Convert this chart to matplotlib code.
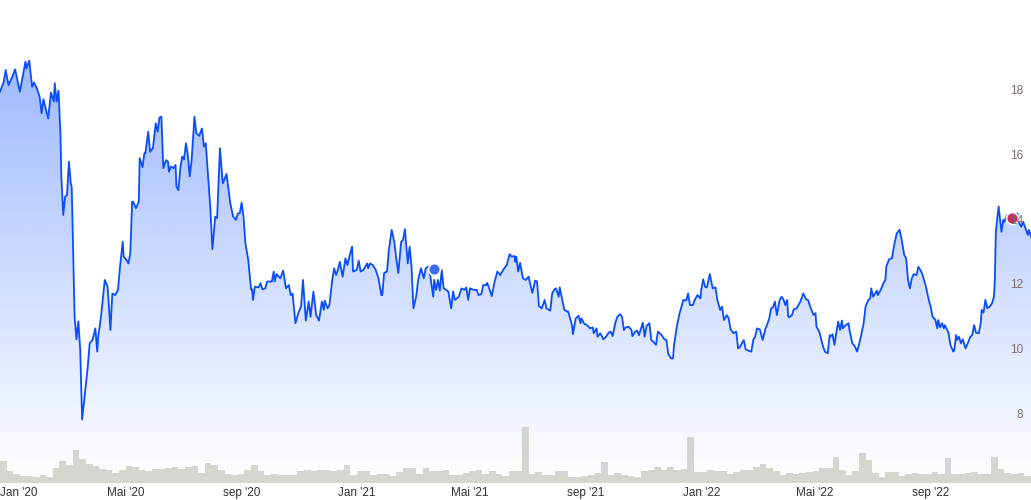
import numpy as np
import pandas as pd
import matplotlib
matplotlib.use('Agg')
import matplotlib.pyplot as plt
import matplotlib.colors as mcolors
import matplotlib.dates as mdates
from matplotlib.patches import PathPatch
from matplotlib.transforms import ScaledTranslation

plt.rcParams['font.family'] = ['Liberation Sans', 'DejaVu Sans']

# Day offsets are counted from 1 Jan 2020
origin = pd.Timestamp('2020-01-01')

price_days = [
    -12, -8, -6, -3, 1, 4, 9, 15, 16, 19,
    22, 24, 27, 30, 32, 34, 39, 42, 45, 46,
    48, 50, 52, 53, 55, 57, 59, 61, 63, 64,
    67, 69, 71, 73, 75, 78, 81, 83, 86, 89,
    91, 92, 95, 99, 102, 105, 107, 110, 113, 115,
    118, 119, 122, 124, 126, 128, 129, 132, 135, 136,
    139, 141, 142, 145, 147, 150, 153, 155, 157, 159,
    161, 164, 166, 167, 169, 172, 174, 175, 177, 179,
    181, 183, 185, 187, 189, 191, 194, 196, 199, 202,
    204, 206, 211, 213, 216, 218, 221, 224, 228, 232,
    235, 238, 240, 242, 244, 246, 248, 251, 254, 255,
    256, 258, 262, 264, 266, 269, 271, 276, 278, 279,
    281, 285, 288, 291, 294, 296, 298, 301, 304, 307,
    309, 312, 315, 317, 320, 323, 326, 329, 331, 332,
    335, 337, 340, 342, 344, 346, 348, 351, 354, 356,
    359, 361, 362, 366, 368, 370, 373, 377, 378, 380,
    383, 386, 389, 392, 393, 395, 398, 400, 403, 406,
    408, 410, 413, 415, 417, 420, 422, 424, 426, 429,
    431, 434, 437, 439, 442, 444, 447, 448, 450, 452,
    454, 456, 458, 461, 463, 466, 468, 470, 474, 477,
    480, 482, 484, 486, 490, 493, 495, 498, 500, 503,
    504, 506, 509, 512, 515, 518, 521, 525, 528, 530,
    533, 534, 535, 537, 539, 542, 545, 548, 550, 552,
    555, 557, 559, 562, 565, 567, 571, 573, 575, 577,
    580, 581, 584, 586, 589, 590, 594, 595, 598, 601,
    603, 604, 607, 610, 613, 616, 617, 620, 621, 624,
    626, 627, 630, 633, 635, 637, 640, 642, 645, 647,
    649, 651, 654, 657, 658, 661, 663, 665, 669, 671,
    673, 676, 678, 680, 683, 685, 689, 692, 694, 696,
    699, 701, 702, 705, 708, 710, 712, 715, 717, 719,
    722, 724, 727, 730, 731, 733, 735, 737, 740, 743,
    746, 748, 751, 753, 755, 758, 760, 762, 765, 768,
    770, 772, 774, 776, 778, 781, 784, 786, 788, 790,
    793, 796, 799, 800, 803, 805, 807, 809, 811, 814,
    816, 818, 820, 822, 823, 824, 827, 829, 832, 836,
    839, 842, 844, 847, 850, 852, 853, 856, 859, 860,
    862, 865, 867, 868, 870, 872, 874, 876, 878, 880,
    881, 884, 887, 888, 891, 894, 896, 898, 900, 903,
    905, 908, 910, 911, 913, 917, 918, 921, 924, 926,
    927, 930, 933, 935, 938, 941, 943, 946, 948, 950,
    952, 954, 956, 959, 961, 964, 966, 969, 972, 974,
    976, 979, 981, 982, 984, 986, 988, 989, 993, 995,
    998, 999, 1001, 1002, 1004, 1006, 1008, 1011, 1014, 1016,
    1018, 1020, 1022, 1025, 1027, 1028, 1030, 1032, 1034, 1037,
    1039, 1041, 1042, 1043, 1044, 1046, 1048, 1049, 1051, 1052,
    1055, 1057, 1060, 1062, 1066, 1067, 1070, 1072, 1075, 1077, 1078, 1081,
]

price_vals = [
    17.95, 18.26, 18.62, 18.15, 18.41, 18.64, 17.95, 18.88, 18.67, 18.91,
    18.10, 18.23, 18.05, 17.79, 17.28, 17.71, 17.12, 17.92, 17.64, 18.21,
    17.64, 17.98, 16.66, 15.32, 14.13, 14.70, 14.75, 15.78, 15.11, 15.00,
    11.00, 10.28, 10.84, 9.95, 7.80, 8.61, 9.43, 10.16, 10.26, 10.62,
    9.90, 10.36, 10.98, 12.12, 11.91, 10.57, 11.70, 11.65, 11.81, 12.48,
    13.30, 12.84, 12.74, 12.63, 12.94, 14.54, 14.54, 14.34, 14.54, 15.89,
    15.61, 16.04, 16.04, 16.71, 16.09, 16.20, 16.97, 16.71, 17.15, 17.17,
    15.58, 15.83, 15.78, 15.47, 15.63, 15.58, 15.68, 15.00, 14.90, 15.58,
    15.94, 15.85, 16.35, 15.99, 15.32, 15.83, 17.17, 16.66, 16.58, 16.81,
    16.25, 16.35, 14.28, 13.07, 14.08, 14.03, 16.20, 15.11, 15.40, 14.49,
    14.08, 13.98, 14.18, 14.18, 14.51, 14.08, 13.25, 12.74, 11.83, 11.83,
    11.50, 11.91, 11.89, 12.02, 11.83, 11.86, 12.07, 12.07, 12.38, 12.07,
    12.30, 12.17, 12.41, 11.86, 11.96, 11.65, 11.70, 10.78, 11.09, 11.31,
    12.12, 10.86, 11.45, 10.98, 11.76, 11.03, 10.86, 11.45, 11.19, 11.48,
    11.24, 11.34, 12.12, 12.48, 12.27, 12.43, 12.68, 12.22, 12.79, 12.58,
    12.94, 13.15, 12.38, 12.43, 12.72, 12.38, 12.43, 12.63, 12.48, 12.63,
    12.58, 12.43, 12.17, 11.65, 11.65, 12.34, 12.38, 13.05, 13.67, 13.25,
    12.74, 12.33, 13.30, 13.36, 13.69, 12.63, 13.15, 12.53, 11.24, 11.62,
    12.12, 12.48, 12.17, 12.48, 12.53, 12.22, 11.60, 12.12, 11.81, 12.12,
    11.79, 12.43, 11.86, 11.81, 11.76, 11.24, 11.76, 11.50, 11.60, 11.86,
    11.81, 11.89, 11.50, 11.86, 11.81, 11.81, 11.65, 11.68, 11.96, 11.96,
    12.03, 11.89, 11.62, 12.07, 12.38, 12.27, 12.43, 12.59, 12.92, 12.84,
    12.86, 12.68, 12.84, 12.38, 12.65, 12.17, 12.12, 12.22, 11.96, 11.72,
    12.10, 12.07, 11.31, 11.24, 11.50, 11.24, 11.17, 11.70, 11.81, 11.86,
    11.60, 11.89, 11.45, 11.19, 11.14, 11.14, 10.72, 10.44, 10.93, 11.01,
    10.78, 10.93, 10.76, 10.72, 10.62, 10.65, 10.47, 10.62, 10.36, 10.47,
    10.36, 10.28, 10.36, 10.49, 10.52, 10.38, 10.80, 10.98, 11.06, 10.98,
    10.57, 10.65, 10.67, 10.57, 10.38, 10.52, 10.55, 10.41, 10.80, 10.36,
    10.69, 10.78, 10.26, 10.21, 10.11, 10.52, 10.41, 10.28, 10.26, 9.83,
    9.69, 9.69, 10.08, 10.67, 11.09, 11.29, 11.50, 11.48, 11.70, 11.34,
    11.34, 11.50, 11.65, 11.55, 11.83, 12.14, 11.91, 11.89, 12.30, 11.86,
    11.89, 11.50, 11.19, 11.29, 10.88, 11.03, 10.93, 10.59, 10.47, 10.52,
    10.00, 10.05, 10.16, 10.26, 9.97, 9.93, 9.90, 10.26, 10.36, 10.62,
    10.59, 10.26, 10.62, 10.67, 10.93, 11.24, 11.27, 11.45, 11.03, 11.50,
    11.60, 11.52, 11.34, 11.50, 11.00, 10.96, 11.03, 11.21, 11.24, 11.45,
    11.70, 11.52, 11.50, 11.24, 11.03, 11.09, 10.67, 10.52, 10.16, 10.05,
    9.90, 9.85, 10.41, 10.36, 10.44, 10.11, 10.47, 10.83, 10.57, 10.86,
    10.62, 10.72, 10.78, 10.57, 10.16, 10.05, 9.90, 10.11, 10.36, 10.78,
    11.29, 11.50, 11.55, 11.86, 11.60, 11.79, 11.65, 11.81, 12.02, 12.12,
    12.53, 12.76, 12.79, 13.15, 13.56, 13.67, 13.41, 12.89, 12.79, 12.12,
    11.86, 12.17, 12.30, 12.27, 12.53, 12.38, 12.22, 11.91, 11.50, 11.29,
    10.98, 10.88, 10.62, 10.88, 10.65, 10.78, 10.62, 10.72, 10.47, 10.10,
    9.90, 9.95, 10.41, 10.26, 10.36, 10.16, 10.28, 10.00, 10.21, 10.36,
    10.41, 10.72, 10.49, 10.47, 10.78, 11.19, 11.11, 11.50, 11.24, 11.31,
    11.40, 11.60, 12.12, 13.56, 13.87, 14.39, 13.87, 13.61, 13.98, 13.92,
    14.13, 13.98, 14.03, 14.13, 14.18, 13.92, 13.77, 13.92, 13.67, 13.51, 13.67, 13.41,
]

# weekly volume (relative units), first week starts at day -12
volume_start_day = -12
volume = [
    22, 12, 9, 7, 7, 6, 8, 6, 15, 22, 18, 33, 24, 19, 17, 14, 13, 10, 13, 17,
    16, 13, 12, 14, 14, 15, 16, 14, 16, 17, 10, 20, 18, 13, 9, 8, 9, 13, 18, 12,
    8, 9, 8, 8, 8, 12, 13, 12, 13, 13, 12, 13, 18, 8, 12, 12, 8, 9, 9, 7,
    11, 15, 15, 9, 15, 12, 12, 13, 8, 8, 10, 12, 13, 9, 12, 9, 7, 12, 12, 56,
    9, 11, 8, 8, 12, 12, 6, 6, 7, 8, 10, 21, 8, 10, 8, 7, 6, 12, 13, 16,
    13, 16, 13, 14, 46, 11, 11, 13, 12, 12, 9, 11, 13, 13, 16, 19, 15, 12, 8, 10,
    9, 10, 11, 12, 15, 15, 26, 13, 8, 12, 30, 23, 10, 6, 11, 11, 7, 9, 10, 9,
    9, 11, 9, 25, 9, 9, 10, 11, 9, 9, 26, 14, 10, 9, 10, 7, 14,
]

event_days = [448, 1060]
event_vals = [12.45, 14.03]

tick_months = {1: 'Jan', 5: 'Mai', 9: 'sep'}
y_ticks = [8, 10, 12, 14, 16, 18]

line_color = '#0a4dff'
event_colors = ['#3a6cf4', '#c62a5c']

price_dates = origin + pd.to_timedelta(price_days, unit='D')
vol_dates = origin + pd.to_timedelta(
    [volume_start_day + 7 * i for i in range(len(volume))], unit='D')
event_dates = origin + pd.to_timedelta(event_days, unit='D')

x_start = origin + pd.Timedelta(days=-12)
x_end = origin + pd.Timedelta(days=1080.3)
y_lo, y_hi = 5.833, 20.786
rect = [0, 17 / 500, 1, 483 / 500]

fig = plt.figure(figsize=(10.31, 5.0), dpi=100)
fig.patch.set_facecolor('white')
ax = fig.add_axes(rect)
ax.set_facecolor('white')

# volume bars on a twin axis
vax = ax.twinx()
vax.bar(vol_dates, volume, width=7, align='edge', color='#d6d6d0',
        edgecolor='none', zorder=2)
vax.set_ylim(0, 483)
vax.axis('off')

# gradient under the price line
grad = np.zeros((256, 1, 4))
grad[..., :3] = mcolors.to_rgb(line_color)
grad[:, 0, 3] = np.linspace(0, 0.45, 256)
x0, x1 = mdates.date2num(x_start), mdates.date2num(x_end)
im = ax.imshow(grad, extent=[x0, x1, y_lo, y_hi], origin='lower',
               aspect='auto', interpolation='bilinear', zorder=1)
poly = ax.fill_between(price_dates, price_vals, y_lo,
                       facecolor='none', edgecolor='none')
clip = PathPatch(poly.get_paths()[0], transform=ax.transData,
                 facecolor='none', edgecolor='none')
ax.add_patch(clip)
im.set_clip_path(clip)

ax.plot(price_dates, price_vals, color=line_color, lw=1.3, zorder=3)
for d, v, c in zip(event_dates, event_vals, event_colors):
    ax.plot(d, v, 'o', ms=8.5, color=c, mec='white', mew=1.2, zorder=4)

ax.set_xlim(x_start, x_end)
ax.set_ylim(y_lo, y_hi)
for s in ax.spines.values():
    s.set_visible(False)
ax.tick_params(axis='y', left=False, labelleft=False,
               right=False, labelright=False)

tick_dates = pd.date_range('2020-01-01', '2022-09-01', freq='4MS')
ax.set_xticks(tick_dates)
ax.set_xticklabels([f"{tick_months[d.month]} '{d:%y}" for d in tick_dates])
ax.tick_params(axis='x', length=0, pad=3, labelsize=8.5, labelcolor='#333333')
first = ax.get_xticklabels()[0]
first.set_transform(first.get_transform() +
                    ScaledTranslation(0.073, 0, fig.dpi_scale_trans))

# overlay axis carrying the price labels, so they sit above the markers
lab_ax = fig.add_axes(rect, sharey=ax)
lab_ax.patch.set_visible(False)
for s in lab_ax.spines.values():
    s.set_visible(False)
lab_ax.set_xticks([])
lab_ax.yaxis.tick_right()
lab_ax.set_yticks(y_ticks)
lab_ax.set_yticklabels([str(t) for t in y_ticks])
lab_ax.tick_params(axis='y', length=0, pad=-5.5, labelsize=8.5,
                   labelcolor='#7f6b6b')
for lab in lab_ax.get_yticklabels():
    lab.set_horizontalalignment('right')
lab_ax.set_ylim(y_lo, y_hi)

fig.savefig('out.png', dpi=100, facecolor='white')
